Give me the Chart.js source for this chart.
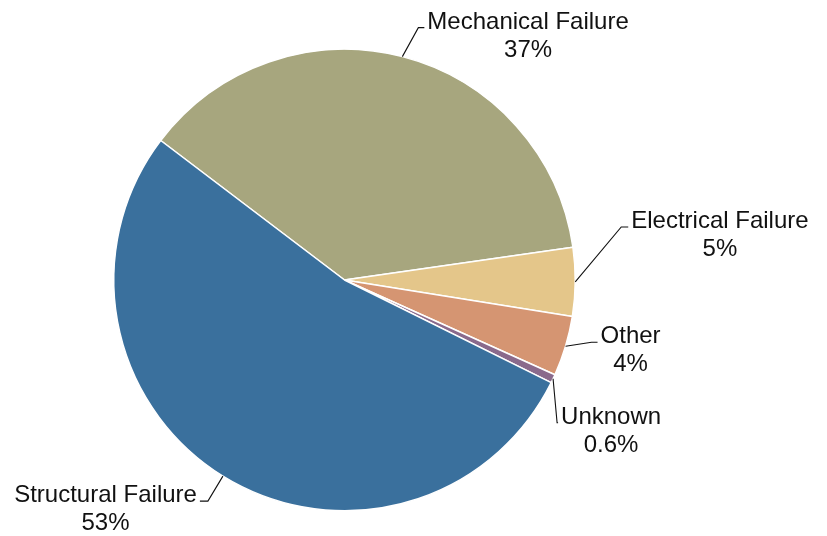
<!DOCTYPE html>
<html>
<head>
<meta charset="utf-8">
<script src="https://cdn.jsdelivr.net/npm/chart.js@4/dist/chart.umd.min.js"></script>
<style>
  html, body { margin: 0; padding: 0; background: #ffffff; }
  #wrap { width: 827px; height: 536px; position: relative; }
</style>
</head>
<body>
<div id="wrap"><canvas id="c" width="827" height="536"></canvas></div>
<script>
// ---- data (clockwise order, starting at the Structural/Mechanical boundary) ----
const categories = ['Mechanical Failure', 'Electrical Failure', 'Other', 'Unknown', 'Structural Failure'];
const values = [37.4, 4.8, 4.2, 0.6, 53.0];
const percentLabels = ['37%', '5%', '4%', '0.6%', '53%'];

// ---- styles ----
const colors = ['#A7A67E', '#E4C68A', '#D59572', '#8A6A8C', '#3A709D'];
// leader geometry per slice: elbow offset from slice edge midpoint, horizontal tail length
const leaderStyle = [
  { dx: 16, dy: -29, tail: 6 },
  { dx: 46, dy: -55, tail: 7 },
  { dx: 26, dy: -4, tail: 6 },
  { dx: 4, dy: 44, tail: 1 },
  { dx: -15, dy: 25, tail: -8 }
];
const FONT_SIZE = 24;
const LINE_H = 28;

const labelPlugin = {
  id: 'leaderLabels',
  afterDatasetsDraw(chart) {
    const ctx = chart.ctx;
    const meta = chart.getDatasetMeta(0);
    ctx.save();
    ctx.font = FONT_SIZE + 'px "Liberation Sans", Arial, sans-serif';
    ctx.fillStyle = '#111111';
    ctx.strokeStyle = '#111111';
    ctx.lineWidth = 1.1;
    meta.data.forEach((arc, i) => {
      const p = arc.getProps(['x', 'y', 'startAngle', 'endAngle', 'outerRadius'], true);
      const mid = (p.startAngle + p.endAngle) / 2;
      const ex = p.x + Math.cos(mid) * p.outerRadius;
      const ey = p.y + Math.sin(mid) * p.outerRadius;
      const s = leaderStyle[i];
      const bx = ex + s.dx, by = ey + s.dy;
      const tx = bx + s.tail;
      ctx.beginPath();
      ctx.moveTo(ex, ey);
      ctx.lineTo(bx, by);
      ctx.lineTo(tx, by);
      ctx.stroke();
      const l1 = categories[i], l2 = percentLabels[i];
      const w1 = ctx.measureText(l1).width;
      let left;
      if (s.tail >= 0) left = tx + 3; else left = tx - 3 - w1;
      const cx = left + w1 / 2;
      ctx.textBaseline = 'alphabetic';
      ctx.textAlign = 'center';
      ctx.fillText(l1, cx, by + 1);
      ctx.fillText(l2, cx, by + 1 + LINE_H);
    });
    ctx.restore();
  }
};

new Chart(document.getElementById('c'), {
  type: 'pie',
  data: {
    labels: categories,
    datasets: [{
      data: values,
      backgroundColor: colors,
      borderColor: '#ffffff',
      borderWidth: 1.5
    }]
  },
  options: {
    responsive: false,
    animation: false,
    rotation: -52.8,
    layout: { padding: { left: 113, right: 251, top: 48, bottom: 24 } },
    plugins: { legend: { display: false }, tooltip: { enabled: false } }
  },
  plugins: [labelPlugin]
});
</script>
</body>
</html>
